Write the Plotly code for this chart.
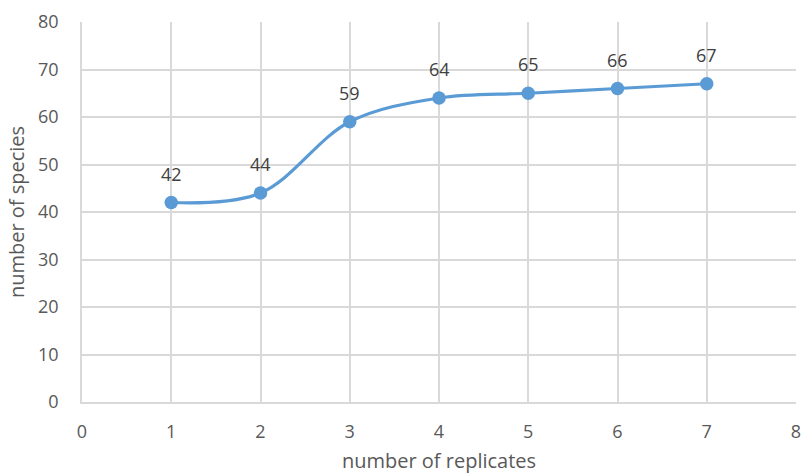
import plotly.graph_objects as go

# Species accumulation over replicates
replicates = [1, 2, 3, 4, 5, 6, 7]
species = [42, 44, 59, 64, 65, 66, 67]

x_ticks = [0, 1, 2, 3, 4, 5, 6, 7, 8]
y_ticks = [0, 10, 20, 30, 40, 50, 60, 70, 80]

LINE = "#5B9BD5"
GRID = "#D9D9D9"
TEXT = "#595959"
FONT = "'Open Sans', sans-serif"

fig = go.Figure()
fig.add_trace(go.Scatter(
    x=replicates, y=species,
    mode="lines+markers",
    line=dict(color=LINE, width=3.2, shape="spline", smoothing=1),
    marker=dict(color=LINE, size=13.5),
    hoverinfo="skip",
))

for xv, yv in zip(replicates, species):
    fig.add_annotation(
        x=xv, y=yv, text=str(yv), showarrow=False,
        yshift=29, font=dict(family=FONT, size=18, color="#404040"),
    )

fig.update_layout(
    width=802, height=475,
    margin=dict(l=82, r=6, t=22, b=73),
    paper_bgcolor="white", plot_bgcolor="white",
    showlegend=False,
    font=dict(family=FONT, color=TEXT, size=18),
)
fig.update_xaxes(
    range=[0, 8], tickvals=x_ticks, automargin=False,
    showgrid=True, gridcolor=GRID, gridwidth=1.5,
    showline=True, linecolor=GRID, linewidth=1.5,
    zeroline=False, ticklabelstandoff=13,
    tickfont=dict(family=FONT, size=18, color=TEXT),
    title=dict(text="number of replicates", standoff=12,
               font=dict(family=FONT, size=20, color=TEXT)),
)
fig.update_yaxes(
    range=[0, 80], tickvals=y_ticks, automargin=False,
    showgrid=True, gridcolor=GRID, gridwidth=1.5,
    showline=True, linecolor=GRID, linewidth=1.5,
    zeroline=False, ticklabelstandoff=18,
    tickfont=dict(family=FONT, size=18, color=TEXT),
    title=dict(text="number of species", standoff=8,
               font=dict(family=FONT, size=20, color=TEXT)),
)

fig.write_html("out.html")
